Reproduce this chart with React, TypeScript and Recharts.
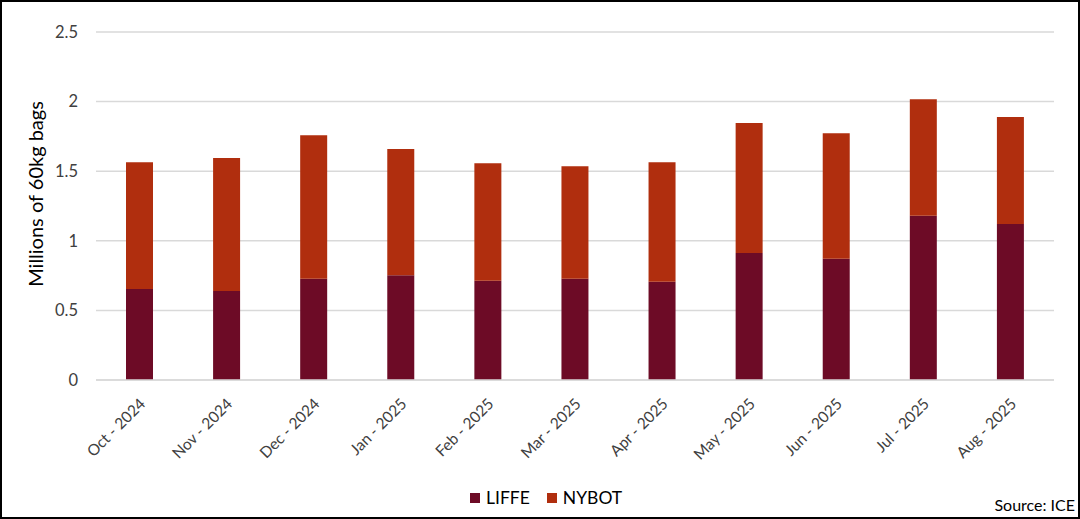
import { BarChart, Bar, XAxis, YAxis, CartesianGrid } from 'recharts'

// Monthly futures volumes, millions of 60kg bags
const months = [
  'Oct - 2024', 'Nov - 2024', 'Dec - 2024', 'Jan - 2025', 'Feb - 2025', 'Mar - 2025',
  'Apr - 2025', 'May - 2025', 'Jun - 2025', 'Jul - 2025', 'Aug - 2025',
]
const liffe = [0.654, 0.639, 0.728, 0.752, 0.713, 0.728, 0.706, 0.912, 0.871, 1.18, 1.121]
const nybot = [0.91, 0.956, 1.03, 0.908, 0.844, 0.807, 0.858, 0.934, 0.901, 0.836, 0.768]
const yTicks = [0, 0.5, 1, 1.5, 2, 2.5]

const LIFFE_COLOR = '#6d0b26'
const NYBOT_COLOR = '#b02e0e'
const FONT = "Lato, 'Open Sans', sans-serif"
const TEXT = '#404040'

const data = months.map((m, i) => ({ month: m, liffe: liffe[i], nybot: nybot[i] }))

function MonthTick({ x, y, payload }: { x?: number; y?: number; payload?: { value: string } }) {
  const tx = (x ?? 0) + 3
  const ty = (y ?? 0) + 13
  return (
    <text
      x={tx}
      y={ty}
      dy="0.35em"
      transform={`rotate(-45 ${tx} ${ty})`}
      textAnchor="end"
      fill={TEXT}
      fontSize={15.5}
      fontFamily={FONT}
    >
      {payload?.value}
    </text>
  )
}

function YTitle({ viewBox }: { viewBox?: { x: number; y: number; width: number; height: number } }) {
  if (!viewBox) return null
  const cx = viewBox.x + 33
  const cy = viewBox.y + viewBox.height / 2 - 12
  return (
    <text
      x={cx}
      y={cy}
      transform={`rotate(-90 ${cx} ${cy})`}
      textAnchor="middle"
      dominantBaseline="central"
      fill="#000"
      fontSize={20}
      fontFamily={FONT}
    >
      Millions of 60kg bags
    </text>
  )
}

export default function App() {
  return (
    <div style={{
      position: 'absolute', left: 0, top: 0, width: 1080, height: 519,
      boxSizing: 'border-box', border: '2px solid #000', background: '#fff', fontFamily: FONT,
    }}>
      <BarChart width={1076} height={515} data={data} margin={{ top: 30, right: 24, bottom: 107, left: 0 }}>
        <CartesianGrid vertical={false} stroke="#d9d9d9" strokeWidth={1.5} />
        <XAxis
          dataKey="month"
          height={30}
          interval={0}
          tickLine={false}
          axisLine={{ stroke: '#d9d9d9', strokeWidth: 1.5 }}
          tick={<MonthTick />}
        />
        <YAxis
          width={94}
          domain={[0, 2.5]}
          ticks={yTicks}
          tickLine={false}
          axisLine={false}
          tickMargin={12}
          tick={{ fill: TEXT, fontSize: 16.5, fontFamily: FONT }}
          label={<YTitle />}
        />
        <Bar dataKey="liffe" stackId="a" fill={LIFFE_COLOR} barSize={27} isAnimationActive={false} />
        <Bar dataKey="nybot" stackId="a" fill={NYBOT_COLOR} barSize={27} isAnimationActive={false} />
      </BarChart>

      {/* legend */}
      <div style={{
        position: 'absolute', left: 468, top: 484, display: 'flex', alignItems: 'center',
        fontSize: 17.5, color: '#000', lineHeight: '24px',
      }}>
        <span style={{ width: 10, height: 10, background: LIFFE_COLOR, marginRight: 6 }} />
        <span style={{ marginRight: 17 }}>LIFFE</span>
        <span style={{ width: 10, height: 10, background: NYBOT_COLOR, marginRight: 6 }} />
        <span>NYBOT</span>
      </div>

      <div style={{ position: 'absolute', right: 3, top: 493, fontSize: 16, color: '#000', lineHeight: '20px' }}>
        Source: ICE
      </div>
    </div>
  )
}
